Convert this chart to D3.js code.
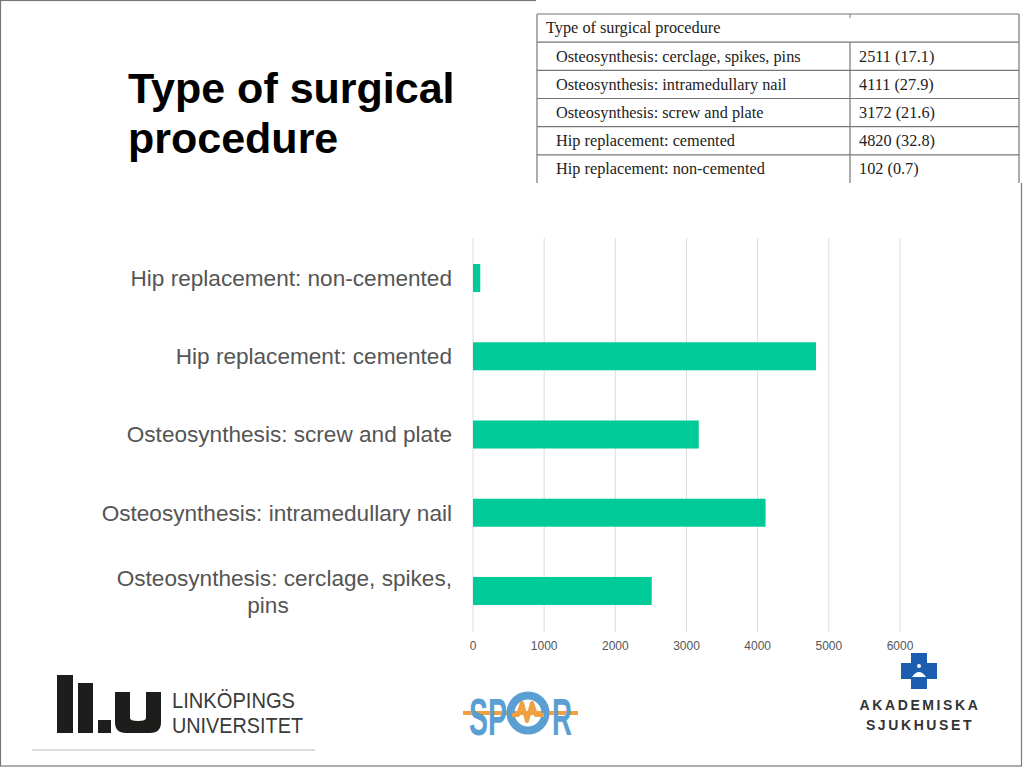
<!DOCTYPE html>
<html><head><meta charset="utf-8">
<script src="https://cdn.jsdelivr.net/npm/d3@7"></script>
<style>
html,body{margin:0;padding:0;background:#fff;}
svg{display:block;}
</style></head>
<body>
<svg id="c" width="1024" height="768"></svg>
<script>
// ---- data ----
const categories = ["Osteosynthesis: cerclage, spikes, pins","Osteosynthesis: intramedullary nail","Osteosynthesis: screw and plate","Hip replacement: cemented","Hip replacement: non-cemented"];
const values = [2511, 4111, 3172, 4820, 102];
const percents = ["17.1","27.9","21.6","32.8","0.7"];
const ticks = [0,1000,2000,3000,4000,5000,6000];
const title = ["Type of surgical", "procedure"];
const tableHeader = "Type of surgical procedure";

const svg = d3.select("#c");
const sans = "'Liberation Sans', Arial, Helvetica, sans-serif";
const serif = "'Liberation Serif', 'DejaVu Serif', serif";

// slide border
svg.append("rect").attr("x",0.5).attr("y",0.5).attr("width",1021).attr("height",765.5)
  .attr("fill","none").attr("stroke","#777").attr("stroke-width",1.2);

// title
svg.append("text").attr("font-family",sans).attr("font-weight","bold").attr("font-size",43).attr("fill","#000")
  .selectAll("tspan").data(title).join("tspan").attr("x",128).attr("y",(d,i)=>103+i*50).text(d=>d);

// ---- table (image of source table) ----
const tbl = svg.append("g");
tbl.append("rect").attr("x",536).attr("y",0).attr("width",488).attr("height",183).attr("fill","#fff");
const rowY = d3.scaleBand().domain(d3.range(categories.length+1)).range([14,183]);
const tx0 = 537, tx1 = 1019, tdiv = 850;
const lineCol = "#777";
tbl.append("line").attr("x1",tx0).attr("x2",tx1).attr("y1",14).attr("y2",14).attr("stroke",lineCol).attr("stroke-width",1.2);
tbl.append("line").attr("x1",tx0).attr("x2",tx0).attr("y1",14).attr("y2",183).attr("stroke",lineCol).attr("stroke-width",1.2);
tbl.append("line").attr("x1",tx1).attr("x2",tx1).attr("y1",14).attr("y2",183).attr("stroke",lineCol).attr("stroke-width",1.2);
tbl.append("line").attr("x1",tdiv).attr("x2",tdiv).attr("y1",14).attr("y2",18).attr("stroke",lineCol);
tbl.append("line").attr("x1",tdiv).attr("x2",tdiv).attr("y1",rowY(1)).attr("y2",183).attr("stroke",lineCol).attr("stroke-width",1.2);
d3.range(1,categories.length+1).forEach(i=>{
  tbl.append("line").attr("x1",tx0).attr("x2",tx1).attr("y1",rowY(i)).attr("y2",rowY(i)).attr("stroke",lineCol).attr("stroke-width",1.2);
});
tbl.append("text").attr("x",546).attr("y",rowY(0)+rowY.bandwidth()/2).attr("dy","0.33em")
  .attr("font-family",serif).attr("font-size",16.3).attr("fill","#222").text(tableHeader);
categories.forEach((c,i)=>{
  const yc = rowY(i+1)+rowY.bandwidth()/2;
  tbl.append("text").attr("x",556).attr("y",yc).attr("dy","0.33em").attr("font-family",serif).attr("font-size",16.3).attr("fill","#222").text(c);
  tbl.append("text").attr("x",859).attr("y",yc).attr("dy","0.33em").attr("font-family",serif).attr("font-size",16.3).attr("fill","#222").text(values[i]+" ("+percents[i]+")");
});

// ---- chart ----
const x = d3.scaleLinear().domain([0,6000]).range([473,900]);
const order = categories.slice().reverse();
const y = d3.scaleBand().domain(order).range([239,630]).paddingInner(0.642).paddingOuter(0.32);

svg.append("g").selectAll("line").data(ticks).join("line")
  .attr("x1",d=>x(d)).attr("x2",d=>x(d)).attr("y1",238).attr("y2",632)
  .attr("stroke","#dcdcdc").attr("stroke-width",1);

svg.append("g").selectAll("text").data(ticks).join("text")
  .attr("x",d=>x(d)).attr("y",650).attr("text-anchor","middle")
  .attr("font-family",sans).attr("font-size",12).attr("fill","#555").text(d=>d);

const byName = new Map(categories.map((c,i)=>[c,values[i]]));
svg.append("g").selectAll("rect").data(order).join("rect")
  .attr("x",x(0)).attr("y",d=>y(d)).attr("width",d=>x(byName.get(d))-x(0)).attr("height",y.bandwidth())
  .attr("fill","#00ca97");

const lbl = svg.append("g").attr("font-family",sans).attr("font-size",22.6).attr("fill","#555");
order.forEach(c=>{
  const yc = y(c)+y.bandwidth()/2;
  const t = lbl.append("text").attr("x",452).attr("y",yc).attr("dy","0.35em").attr("text-anchor","end").text(c);
  if (t.node().getComputedTextLength() > 362) {
    const words = c.split(" ");
    const last = words.pop();
    t.text(words.join(" ")).attr("y",yc-13);
    lbl.append("text").attr("x",268).attr("y",yc+14).attr("dy","0.35em").attr("text-anchor","middle").text(last);
  }
});

// ---- logos ----
// LiU
const liu = svg.append("g").attr("fill","#1d1d1b");
liu.append("rect").attr("x",57).attr("y",675).attr("width",16).attr("height",58);
liu.append("rect").attr("x",78).attr("y",683).attr("width",15).attr("height",50);
liu.append("rect").attr("x",98).attr("y",720).attr("width",13).attr("height",13);
liu.append("path").attr("d","M115,692 H130 V718 Q130,721 138,721 Q146,721 146,718 V692 H161 V722 Q161,733 150,733 H126 Q115,733 115,722 Z");
svg.append("text").attr("x",172).attr("y",708).attr("font-family",sans).attr("font-size",22).attr("fill","#3a3a3a")
  .attr("textLength",123).attr("lengthAdjust","spacingAndGlyphs").text("LINKÖPINGS");
svg.append("text").attr("x",172).attr("y",733).attr("font-family",sans).attr("font-size",22).attr("fill","#3a3a3a")
  .attr("textLength",131).attr("lengthAdjust","spacingAndGlyphs").text("UNIVERSITET");
svg.append("line").attr("x1",32).attr("x2",315).attr("y1",750).attr("y2",750).attr("stroke","#d0d0d0").attr("stroke-width",1.5);

// SPOR
const spor = svg.append("g");
spor.append("line").attr("x1",463).attr("x2",578).attr("y1",713).attr("y2",713).attr("stroke","#f0a040").attr("stroke-width",4);
spor.append("text").attr("x",469).attr("y",735).attr("font-family",sans).attr("font-weight","bold").attr("font-size",52).attr("fill","#5b9fd2")
  .attr("textLength",38).attr("lengthAdjust","spacingAndGlyphs").text("SP");
spor.append("circle").attr("cx",528).attr("cy",713).attr("r",17.5).attr("fill","none").attr("stroke","#5b9fd2").attr("stroke-width",8);
spor.append("polyline").attr("points","512,715 518,715 522,703 527,721 532,703 536,715 544,715")
  .attr("fill","none").attr("stroke","#f0a040").attr("stroke-width",4).attr("stroke-linejoin","round");
spor.append("text").attr("x",552).attr("y",735).attr("font-family",sans).attr("font-weight","bold").attr("font-size",52).attr("fill","#5b9fd2")
  .attr("textLength",20).attr("lengthAdjust","spacingAndGlyphs").text("R");

// Akademiska
const ak = svg.append("g");
ak.append("path").attr("d","M911,653 H927 V663 H937 V679 H927 V689 H911 V679 H901 V663 H911 Z").attr("fill","#1b5eb0");
ak.append("path").attr("d","M912,677 Q919,667 926,677 Z").attr("fill","#fff");
ak.append("circle").attr("cx",919).attr("cy",666).attr("r",2).attr("fill","#fff");
ak.append("text").attr("x",920).attr("y",710).attr("text-anchor","middle").attr("font-family",sans).attr("font-weight","bold")
  .attr("font-size",14).attr("letter-spacing",2.6).attr("fill","#333").text("AKADEMISKA");
ak.append("text").attr("x",920).attr("y",730).attr("text-anchor","middle").attr("font-family",sans).attr("font-weight","bold")
  .attr("font-size",14).attr("letter-spacing",2.6).attr("fill","#333").text("SJUKHUSET");
</script>
</body></html>
